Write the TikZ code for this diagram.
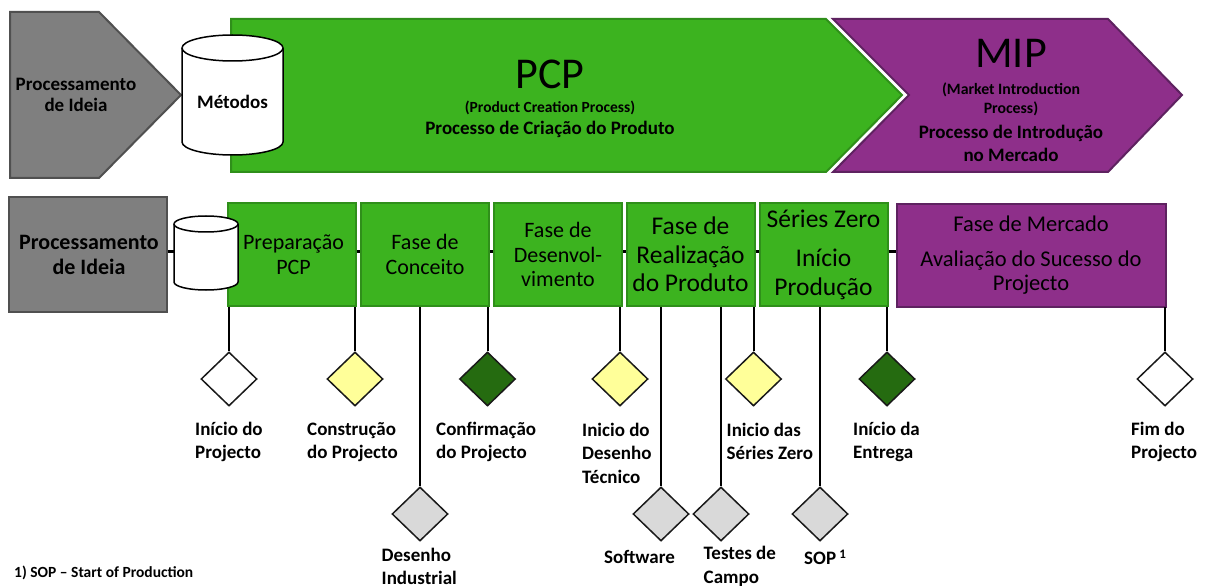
\documentclass[tikz,border=0pt]{standalone}
\usepackage{fontspec}
\setmainfont{Carlito}
\usetikzlibrary{shapes.geometric}
\definecolor{verde}{HTML}{3CB31F}
\definecolor{verdeb}{HTML}{2F8F1A}
\definecolor{roxo}{HTML}{8E2F8A}
\definecolor{roxob}{HTML}{5E2260}
\definecolor{cinza}{HTML}{7F7F7F}
\definecolor{cinzab}{HTML}{505050}
\definecolor{escuro}{HTML}{256B10}
\definecolor{amarelo}{HTML}{FFFF99}
\definecolor{claro}{HTML}{D9D9D9}
\begin{document}
\begin{tikzpicture}[x=1pt,y=-1pt,
    seta/.style={line width=2pt,line join=miter},
    fase/.style={draw=verdeb,fill=verde,line width=2pt,minimum height=103pt,inner sep=0pt,align=center,font=\fontsize{22}{24.5}\selectfont},
    marco/.style={diamond,draw=black!90,line width=1.5pt,minimum width=56pt,minimum height=54pt,inner sep=0pt,aspect=1},
    rotulo/.style={anchor=west,align=left,inner sep=0pt,font=\fontsize{19}{23.5}\selectfont\bfseries},
    ligacao/.style={black,line width=2pt},
    junta/.style={black,line width=3pt},
    base/.style={draw=black,fill=white,line width=1.5pt}]
    \useasboundingbox (0,0) rectangle (1205,588);
    %setas de cima
    \draw[seta,draw=cinzab,fill=cinza] (10,12) -- (99,12) -- (181,95) -- (99,178) -- (10,178) -- cycle;
    \draw[seta,draw=verdeb,fill=verde] (231,19) -- (826,19) -- (902,95) -- (826,172) -- (231,172) -- cycle;
    \draw[seta,draw=roxob,fill=roxo] (833,19) -- (1108,19) -- (1182,95) -- (1108,172) -- (833,172) -- (909,95) -- cycle;
    \node[align=center,inner sep=0pt,font=\fontsize{19}{21}\selectfont\bfseries] (ideiatopo) at (76,95) {Processamento\\de Ideia};
    \draw[base] (182,48) -- (182,142) arc[start angle=180,end angle=360,x radius=50.5pt,y radius=13pt] -- (283,48) arc[start angle=0,end angle=180,x radius=50.5pt,y radius=13pt] -- cycle;
    \draw[base] (182,48) arc[start angle=180,end angle=360,x radius=50.5pt,y radius=13pt];
    \node[inner sep=0pt,font=\fontsize{19}{21}\selectfont\bfseries] (metodos) at (232.5,102) {Métodos};
    \node[inner sep=0pt,font=\fontsize{44}{50}\selectfont] (pcp) at (550,74) {PCP};
    \node[inner sep=0pt,font=\fontsize{15.5}{15}\selectfont\bfseries] (pcpen) at (550,108) {(Product Creation Process)};
    \node[inner sep=0pt,font=\fontsize{19}{21}\selectfont\bfseries] (pcppt) at (550,129) {Processo de Criação do Produto};
    \node[inner sep=0pt,font=\fontsize{44}{50}\selectfont] (mip) at (1011,53) {MIP};
    \node[align=center,inner sep=0pt,font=\fontsize{15.8}{19}\selectfont\bfseries] (mipen) at (1011,99.5) {(Market Introduction\\Process)};
    \node[align=center,inner sep=0pt,font=\fontsize{19}{23}\selectfont\bfseries] (mippt) at (1011,143.5) {Processo de Introdução\\no Mercado};
    %fases
    \coordinate (linha) at (0,252);
    \node[draw=cinzab,fill=cinza,line width=2pt,minimum width=158pt,minimum height=115pt,inner sep=0pt,align=center,font=\fontsize{22}{25}\selectfont\bfseries] (ideia) at (87.5,254.5) {\hspace*{3pt}Processamento\\\hspace*{3pt}de Ideia};
    \node[fase,minimum width=128pt] (prep) at (291.5,254.5) {\hspace*{4pt}Preparação\\\hspace*{4pt}PCP};
    \node[fase,minimum width=128pt] (conceito) at (425,254.5) {Fase de\\Conceito};
    \node[fase,minimum width=128pt] (desenv) at (558,254.5) {Fase de\\Desenvol-\\vimento};
    \node[fase,minimum width=128pt,font=\fontsize{25.5}{28.5}\selectfont] (realiz) at (690.5,254.5) {Fase de\\Realização\\do Produto};
    \node[fase,minimum width=128pt,font=\fontsize{25.5}{28.5}\selectfont] (series) at (823.5,254.5) {Séries Zero\\[11pt]Início\\Produção};
    \node[fase,draw=roxob,fill=roxo,minimum width=269pt,font=\fontsize{22.5}{24}\selectfont] (mercado) at (1031,255.5) {Fase de Mercado\\[11pt]Avaliação do Sucesso do\\Projecto};
    \draw[base] (174,224) -- (174,282) arc[start angle=180,end angle=360,x radius=32pt,y radius=8pt] -- (238,224) arc[start angle=0,end angle=180,x radius=32pt,y radius=8pt] -- cycle;
    \draw[base] (174,224) arc[start angle=180,end angle=360,x radius=32pt,y radius=8pt];
    \coordinate (bd) at (174,252);
    %juntas
    \draw[junta] (ideia.east |- linha) -- (bd);
    \draw[junta] (prep.east |- linha) -- (conceito.west |- linha);
    \draw[junta] (conceito.east |- linha) -- (desenv.west |- linha);
    \draw[junta] (desenv.east |- linha) -- (realiz.west |- linha);
    \draw[junta] (realiz.east |- linha) -- (series.west |- linha);
    \draw[junta] (series.east |- linha) -- (mercado.west |- linha);
    %marcos
    \node[marco,fill=white] (inicio) at (229,379) {};
    \node[marco,fill=amarelo] (constr) at (355,379) {};
    \node[marco,fill=escuro] (confirm) at (487.5,379) {};
    \node[marco,fill=amarelo] (desenho) at (620,379) {};
    \node[marco,fill=amarelo] (inserie) at (753.5,379) {};
    \node[marco,fill=escuro] (entrega) at (887,379) {};
    \node[marco,fill=white] (fim) at (1165,379) {};
    \node[marco,fill=claro] (indust) at (420,514) {};
    \node[marco,fill=claro] (soft) at (661,514) {};
    \node[marco,fill=claro] (testes) at (721,514) {};
    \node[marco,fill=claro] (sop) at (820,514) {};
    \draw[ligacao] (inicio.north |- prep.south) -- (inicio.north);
    \draw[ligacao] (constr.north |- prep.south) -- (constr.north);
    \draw[ligacao] (confirm.north |- prep.south) -- (confirm.north);
    \draw[ligacao] (desenho.north |- prep.south) -- (desenho.north);
    \draw[ligacao] (inserie.north |- prep.south) -- (inserie.north);
    \draw[ligacao] (entrega.north |- prep.south) -- (entrega.north);
    \draw[ligacao] (fim.north |- prep.south) -- (fim.north);
    \draw[ligacao] (indust.north |- prep.south) -- (indust.north);
    \draw[ligacao] (soft.north |- prep.south) -- (soft.north);
    \draw[ligacao] (testes.north |- prep.south) -- (testes.north);
    \draw[ligacao] (sop.north |- prep.south) -- (sop.north);
    %rotulos
    \node[rotulo] (tinicio) at (195,442) {Início do\\Projecto};
    \node[rotulo] (tconstr) at (307,442) {Construção\\do Projecto};
    \node[rotulo] (tconfirm) at (436,442) {Confirmação\\do Projecto};
    \node[rotulo] (tdesenho) at (582,453) {Inicio do\\Desenho\\Técnico};
    \node[rotulo] (tinserie) at (726.5,441.5) {Inicio das\\Séries Zero};
    \node[rotulo] (tentrega) at (853,442) {Início da\\Entrega};
    \node[rotulo] (tfim) at (1131,442) {Fim do\\Projecto};
    \node[rotulo] (tindust) at (381.5,566.5) {Desenho\\Industrial};
    \node[rotulo] (tsoft) at (604,557) {Software};
    \node[rotulo] (ttestes) at (703.5,566.5) {Testes de\\Campo};
    \node[rotulo] (tsop) at (804,557) {SOP\,\raisebox{6pt}{\fontsize{13}{13}\selectfont 1}};
    \node[rotulo,font=\fontsize{15.5}{15}\selectfont\bfseries] (nota) at (14,573) {1) SOP -- Start of Production};
\end{tikzpicture}
\end{document}
